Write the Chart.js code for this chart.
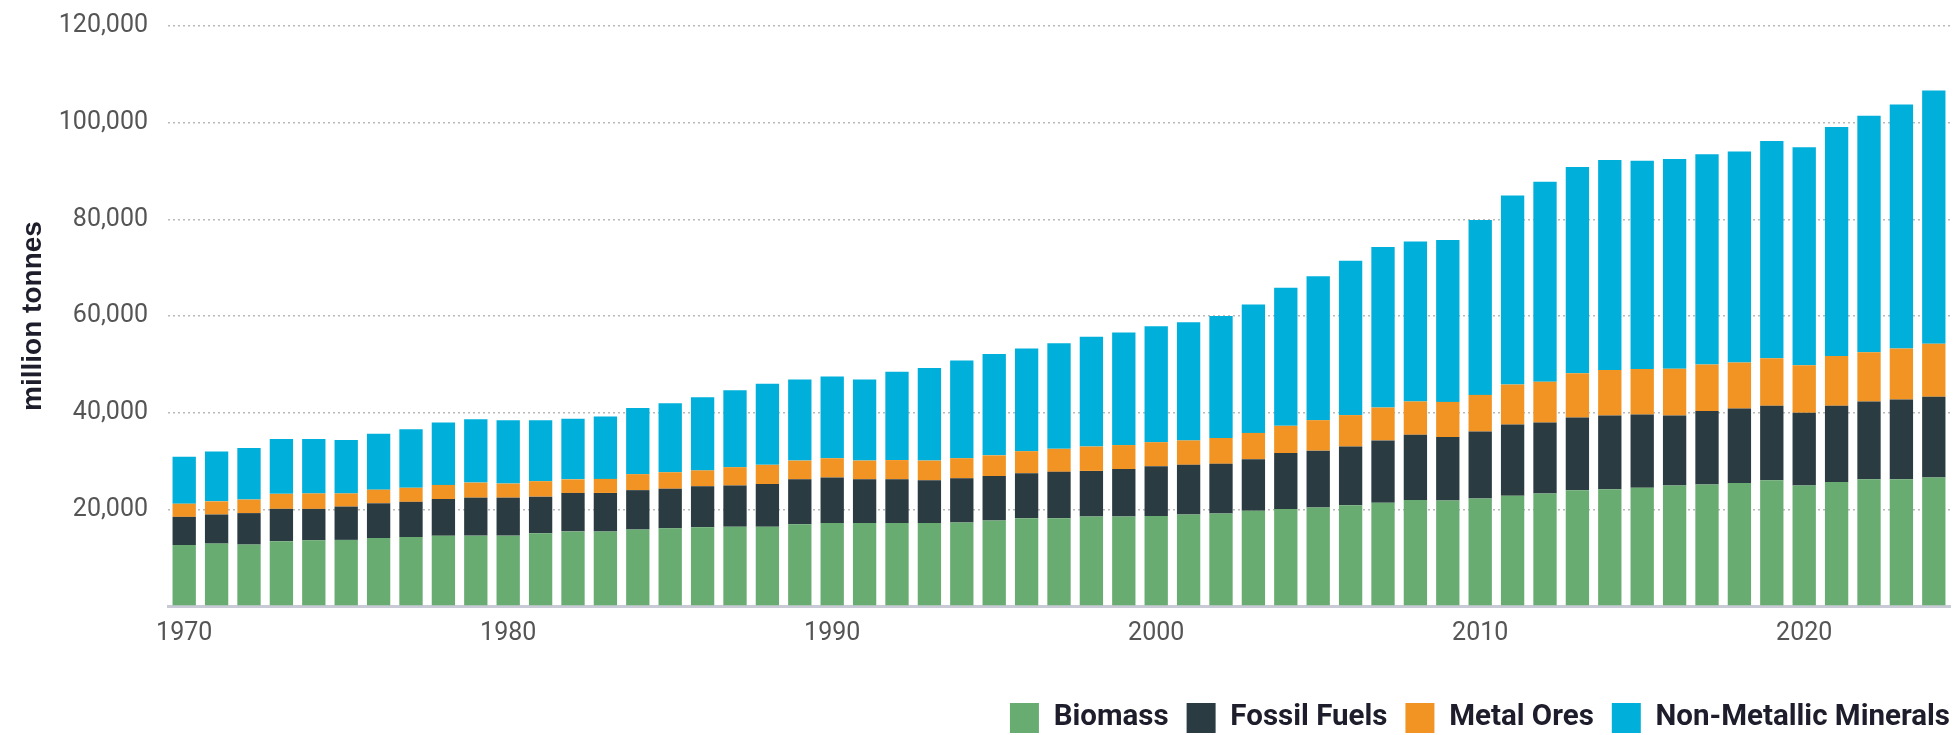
<!DOCTYPE html>
<html>
<head>
<meta charset="utf-8">
<script src="https://cdn.jsdelivr.net/npm/chart.js@4.4.1/dist/chart.umd.min.js"></script>
<style>
    html, body { margin: 0; padding: 0; background: #ffffff; }
    #wrap { width: 1959px; height: 735px; position: relative; }
</style>
</head>
<body>
<div id="wrap"><canvas id="myChart" width="1959" height="735"></canvas></div>
<script>
var years = ['1970','1971','1972','1973','1974','1975','1976','1977','1978','1979',
    '1980','1981','1982','1983','1984','1985','1986','1987','1988','1989',
    '1990','1991','1992','1993','1994','1995','1996','1997','1998','1999',
    '2000','2001','2002','2003','2004','2005','2006','2007','2008','2009',
    '2010','2011','2012','2013','2014','2015','2016','2017','2018','2019',
    '2020','2021','2022','2023','2024'];

// million tonnes
var biomass = [12610,12910,12710,13400,13590,13680,14070,14270,14560,14560,
    14560,15040,15430,15430,15820,16070,16310,16400,16400,16890,
    17180,17180,17180,17180,17280,17670,18150,18150,18540,18540,
    18640,18930,19130,19700,20090,20390,20870,21350,21940,21840,
    22230,22810,23300,23970,24170,24460,24940,25140,25430,26020,
    24940,25630,26210,26210,26590];
var fossilFuels = [5830,6020,6510,6700,6500,6890,7180,7280,7580,7860,
    7860,7580,7960,7960,8150,8200,8450,8540,8840,9310,
    9410,9030,9030,8840,9130,9230,9310,9610,9410,9800,
    10290,10290,10290,10680,11560,11750,12130,12910,13490,13110,
    13870,14760,14660,15050,15240,15140,14470,15230,15430,15430,
    15040,15820,16110,16500,16700];
var metalOres = [2720,2720,2810,3100,3200,2720,2820,2910,2910,3110,
    2910,3200,2810,2910,3310,3400,3300,3780,3970,3880,
    3980,3880,3980,4070,4170,4270,4570,4760,5050,4960,
    4960,5040,5340,5430,5630,6310,6500,6800,6890,7280,
    7580,8250,8440,9120,9410,9410,9700,9610,9510,9800,
    9810,10290,10190,10580,10960];
var nonMetallic = [9710,10290,10670,11360,11260,11060,11560,12130,12910,13100,
    13110,12620,12520,12910,13680,14270,15140,15930,16790,16790,
    16890,16790,18250,19130,20190,20960,21260,21840,22710,23300,
    23970,24470,25230,26590,28540,29800,31930,33200,33100,33490,
    36200,39110,41360,42710,43480,43100,43390,43480,43680,44940,
    45130,47370,48920,50480,52420];

var yTicks = [0, 20000, 40000, 60000, 80000, 100000, 120000];

(function(){
    'use strict';

    function makeSet(label, data, color){
        return {
            label: label,
            data: data,
            backgroundColor: color,
            borderWidth: 0,
            categoryPercentage: 1,
            barPercentage: 0.72
        };
    }

    // legend sits a bit further right than chart.js would put it
    var nudgeLegend = {
        id: 'nudgeLegend',
        afterLayout: function(chart){
            if (chart.legend) {
                chart.legend.left += 9;
                chart.legend.right += 9;
            }
        }
    };

    var ctx = document.getElementById('myChart');

    new Chart(ctx, {
        type: 'bar',
        data: {
            labels: years,
            datasets: [
                makeSet('Biomass', biomass, '#68ac72'),
                makeSet('Fossil Fuels', fossilFuels, '#2b3b42'),
                makeSet('Metal Ores', metalOres, '#f29424'),
                makeSet('Non-Metallic Minerals', nonMetallic, '#00b0db')
            ]
        },
        plugins: [nudgeLegend],
        options: {
            responsive: false,
            animation: false,
            layout: {
                padding: { top: 26, right: 0, left: 0, bottom: -8 }
            },
            plugins: {
                tooltip: { enabled: false },
                legend: {
                    position: 'bottom',
                    align: 'end',
                    labels: {
                        boxWidth: 29,
                        boxHeight: 30,
                        padding: 18,
                        color: '#1d1d2b',
                        font: { family: 'Roboto', size: 29.5, weight: 'bold' }
                    }
                }
            },
            scales: {
                x: {
                    stacked: true,
                    grid: { display: false, drawTicks: false },
                    border: { display: true, color: '#c8cad6', width: 3 },
                    afterFit: function(scale){
                        scale.height = scale.height + 23;
                    },
                    ticks: {
                        autoSkip: false,
                        maxRotation: 0,
                        padding: 13,
                        color: '#555555',
                        font: { family: 'Roboto', size: 25 },
                        callback: function(value, index){
                            var y = years[index];
                            return (parseInt(y, 10) % 10 === 0) ? y : '';
                        }
                    }
                },
                y: {
                    stacked: true,
                    min: 0,
                    max: 120000,
                    afterBuildTicks: function(scale){
                        scale.ticks = yTicks.map(function(v){ return { value: v }; });
                    },
                    afterFit: function(scale){
                        scale.width = 168;
                        scale.paddingTop = 0;
                        scale.paddingBottom = 0;
                    },
                    grid: {
                        drawTicks: false,
                        lineWidth: 1.5,
                        color: function(c){
                            return (c.tick && c.tick.value === 0) ? 'rgba(0,0,0,0)' : '#b9b9b9';
                        }
                    },
                    border: { display: false, dash: [2, 3] },
                    ticks: {
                        padding: 20,
                        color: '#555555',
                        font: { family: 'Roboto', size: 25 },
                        callback: function(value){
                            return value === 0 ? '' : value.toLocaleString('en-US');
                        }
                    },
                    title: {
                        display: true,
                        text: 'million tonnes',
                        color: '#1d1d2b',
                        padding: { top: 16, bottom: 0 },
                        font: { family: 'Liberation Sans', size: 28, weight: 'bold' }
                    }
                },
                // empty strip on the right so the plot stops short of the edge
                yRight: {
                    position: 'right',
                    grid: { display: false, drawTicks: false },
                    border: { display: false },
                    ticks: { display: false },
                    afterFit: function(scale){
                        scale.width = 9;
                    }
                }
            }
        }
    });
    console.log('chart drawn');
})();
</script>
</body>
</html>
